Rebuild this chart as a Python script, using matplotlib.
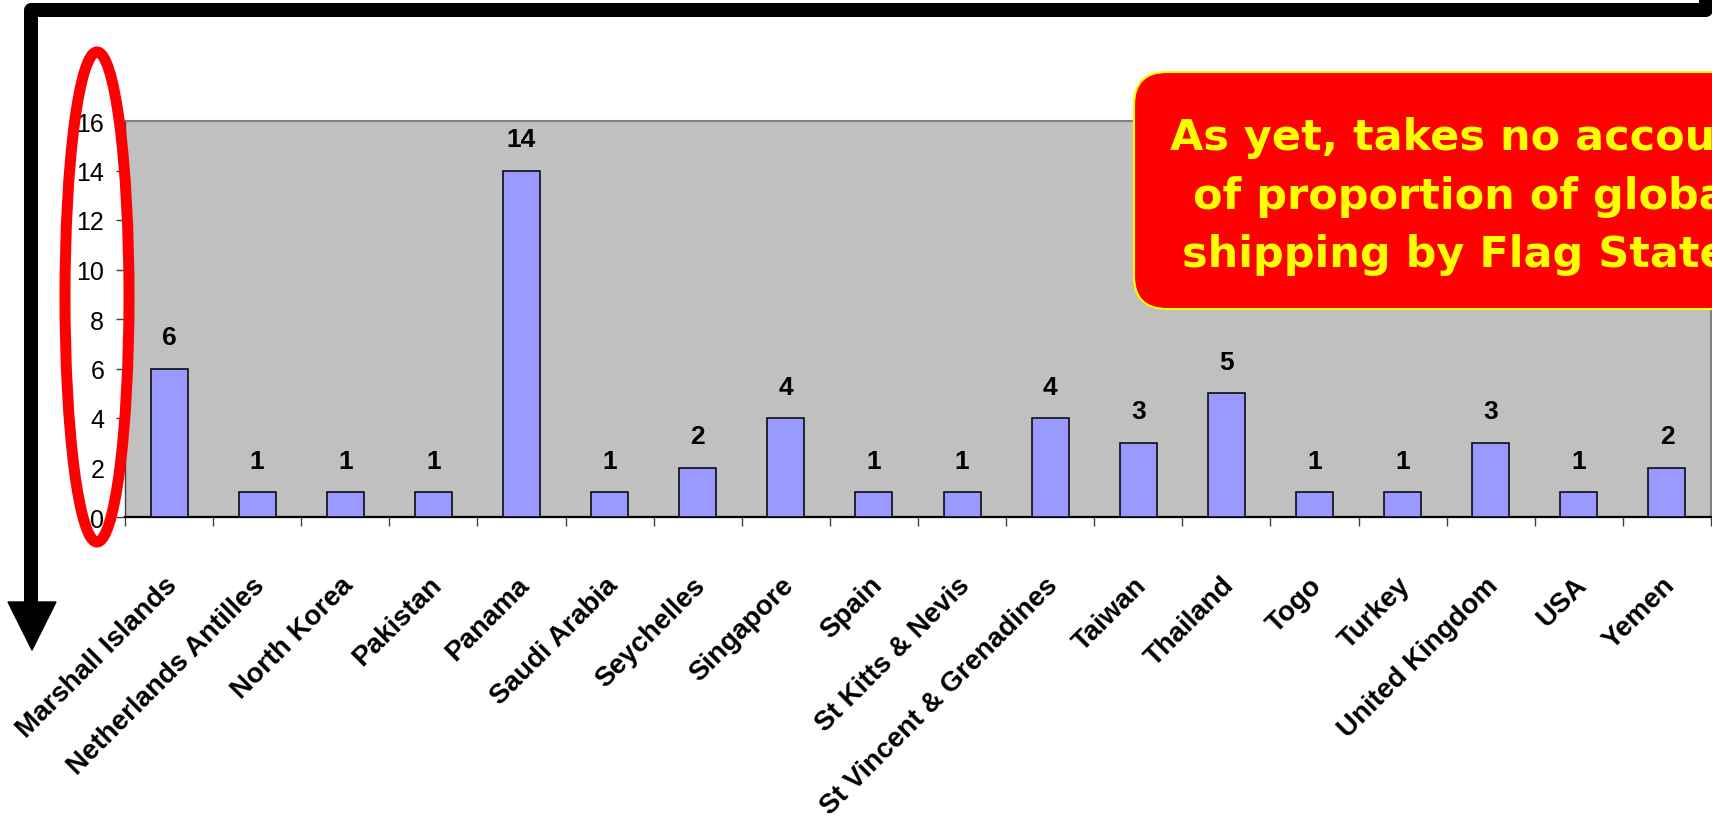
import matplotlib
matplotlib.use('Agg')
import matplotlib.pyplot as plt
import matplotlib.transforms as mtransforms
from matplotlib import font_manager
from matplotlib.patches import Ellipse, FancyBboxPatch, Polygon
from matplotlib.lines import Line2D

# datos
countries = ['Marshall Islands', 'Netherlands Antilles', 'North Korea', 'Pakistan',
             'Panama', 'Saudi Arabia', 'Seychelles', 'Singapore', 'Spain',
             'St Kitts & Nevis', 'St Vincent & Grenadines', 'Taiwan', 'Thailand',
             'Togo', 'Turkey', 'United Kingdom', 'USA', 'Yemen']
values = [6, 1, 1, 1, 14, 1, 2, 4, 1, 1, 4, 3, 5, 1, 1, 3, 1, 2]
y_ticks = [0, 2, 4, 6, 8, 10, 12, 14, 16]
note_lines = ['As yet, takes no account', 'of proportion of global', 'shipping by Flag States']

installed = {f.name for f in font_manager.fontManager.ttflist}
narrow = 'Liberation Sans Narrow' if 'Liberation Sans Narrow' in installed else 'Liberation Sans'

W, H = 1712, 820
fig = plt.figure(figsize=(W / 100, H / 100), dpi=100)
fig.patch.set_facecolor('white')

# grafico de barras
ax = fig.add_axes([125 / W, (H - 518) / H, (1711 - 125) / W, (518 - 122) / H])
ax.set_facecolor('#c0c0c0')
x = list(range(len(countries)))
ax.bar(x, values, width=0.42, color='#9999ff', edgecolor='black', linewidth=1.1, zorder=3)
ax.set_xlim(-0.5, len(countries) - 0.5)
ax.set_ylim(0, 16)

for spine in ['top', 'right']:
    ax.spines[spine].set_color('#808080')
    ax.spines[spine].set_linewidth(1.5)
ax.spines['left'].set_color('#404040')
ax.spines['left'].set_linewidth(1.0)
ax.spines['bottom'].set_color('black')
ax.spines['bottom'].set_linewidth(1.6)

ax.set_yticks(y_ticks)
ax.set_yticklabels([str(v) for v in y_ticks], fontsize=18, family=narrow)
ax.tick_params(axis='y', direction='out', length=6.5, width=1, color='#404040', pad=8.5)

# etiquetas en el centro, marcas en los limites
ax.set_xticks(x)
ax.set_xticklabels(countries, rotation=45, ha='right', va='center',
                   rotation_mode='anchor', fontsize=20, fontweight='bold',
                   family='Liberation Sans')
ax.tick_params(axis='x', which='major', length=0, pad=46)
ax.set_xticks([i - 0.5 for i in range(len(countries) + 1)], minor=True)
ax.tick_params(axis='x', which='minor', direction='out', length=6.5, width=1, color='#404040')
shift = mtransforms.ScaledTranslation(4 / 100, 0, fig.dpi_scale_trans)
for lbl in ax.get_xticklabels():
    lbl.set_transform(lbl.get_transform() + shift)

# etiquetas de las barras
for i, v in enumerate(values):
    ax.annotate(str(v), (i, v), xytext=(0, 22.5), textcoords='offset points',
                ha='center', va='center', fontsize=19, fontweight='bold', family=narrow)

# capa de dibujo encima (en pixeles)
ov = fig.add_axes([0, 0, 1, 1])
ov.set_xlim(0, W)
ov.set_ylim(H, 0)
ov.axis('off')
ov.patch.set_alpha(0)
ov.set_zorder(5)

# marco negro con flecha
ov.add_line(Line2D([31.5, 31.5, 1706, 1706], [605, 10.5, 10.5, -10],
                   color='black', linewidth=14 * 0.72, solid_joinstyle='round',
                   solid_capstyle='butt'))
ov.add_patch(Polygon([[8, 603], [56, 603], [32, 651]], closed=True, color='black'))

# elipse roja
ov.add_patch(Ellipse((97, 298), 64, 490, fill=False, edgecolor='#ff0000', linewidth=11 * 0.72))

# cuadro de nota (cortado por el borde, como en el original)
ov.add_patch(FancyBboxPatch((1134, 73), 900, 237, boxstyle='round,pad=0,rounding_size=33',
                            facecolor='#ff0000', edgecolor='#ffff00', linewidth=1.5))
for line, yb in zip(note_lines, [150, 208.5, 267]):
    ov.text(1468, yb, line, ha='center', va='baseline', color='#ffff00',
            fontsize=31, fontweight='bold', family='DejaVu Sans')

fig.savefig('out.png', dpi=100)
